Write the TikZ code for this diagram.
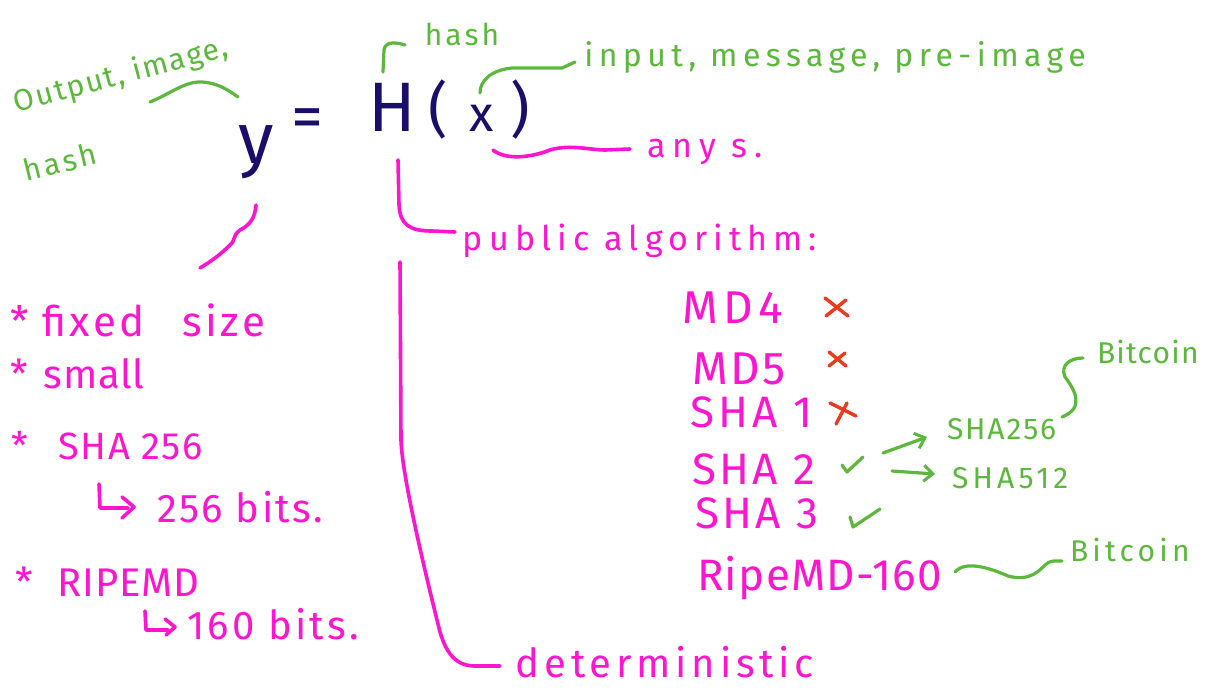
\documentclass[tikz,border=0pt]{standalone}
\usepackage{fontspec}
\setmainfont{Fira Sans}
\usetikzlibrary{arrows.meta}
\definecolor{inkblue}{HTML}{1A0E6B}
\definecolor{pen}{HTML}{FF14CF}
\definecolor{leaf}{HTML}{5CB83C}
\definecolor{cross}{HTML}{EB3A1E}
\newcommand\handfont[2]{\fontsize{#1}{#1}\selectfont\addfontfeature{LetterSpace=#2}}

\begin{document}
\begin{tikzpicture}[x=1pt,y=-1pt,
  lbl/.style={inner sep=0pt,outer sep=2pt},
  pinktext/.style={lbl,text=pen},
  greentext/.style={lbl,text=leaf},
  inktext/.style={lbl,text=inkblue},
  pinkline/.style={draw=pen,line width=3.6pt,line cap=round,line join=round},
  greenline/.style={draw=leaf,line width=3.2pt,line cap=round,line join=round},
  redline/.style={draw=cross,line width=3.4pt,line cap=round},
  barb/.style={-{Straight Barb[length=9pt,width=16pt,line width=3pt]}},
]
\useasboundingbox[fill=white] (0,0) rectangle (1225,698);

% --- the formula y = H(x)
\node[inktext,font=\handfont{72}{0}] (y)  at (256,152) {y};
\node[inktext,font=\handfont{64}{0}] (eq) at (307,124) {=};
\node[inktext,font=\handfont{70}{0}] (H)  at (392,107) {H};
\node[inktext,font=\handfont{60}{0}] (lp) at (438,109) {(};
\node[inktext,font=\handfont{50}{0}] (x)  at (482,118) {x};
\node[inktext,font=\handfont{60}{0}] (rp) at (520,109) {)};

% --- green annotations
\node[greentext,font=\handfont{30}{6},rotate=15] (out) at (121,76) {Output, image,};
\node[greentext,font=\handfont{30}{10},rotate=14] (hl) at (60,162) {hash};
\node[greentext,font=\handfont{30}{10}] (hh) at (462,34) {hash};
\node[greentext,font=\handfont{32}{17}] (inp) at (835,57) {input, message, pre-image};

% --- pink annotations
\node[pinktext,font=\handfont{34}{20}] (any) at (705,152) {any s.};
\node[pinktext,font=\handfont{34}{18}] (pub) at (640,241) {public algorithm:};
\node[pinktext,font=\handfont{40}{12}] (det) at (665,662) {deterministic};

% --- properties of the output
\node[pinktext,font=\handfont{42}{8},anchor=west] (fx)   at (8,320)  {*\hspace{14pt}fixed\hspace{0.9em}size};
\node[pinktext,font=\handfont{40}{2},anchor=west] (sm)   at (8,374)  {*\hspace{16pt}small};
\node[pinktext,font=\handfont{38}{4},anchor=west] (sh)   at (10,446) {*\hspace{30pt}SHA 256};
\node[pinktext,font=\handfont{40}{6},anchor=west] (b256) at (155,507) {256 bits.};
\node[pinktext,font=\handfont{40}{2},anchor=west] (rip)  at (14,582) {*\hspace{24pt}RIPEMD};
\node[pinktext,font=\handfont{40}{8},anchor=west] (b160) at (185,624) {160 bits.};

% --- algorithms
\node[pinktext,font=\handfont{46}{12},anchor=west] (md4)  at (680,308) {MD4};
\node[pinktext,font=\handfont{46}{6},anchor=west]  (md5)  at (690,369) {MD5};
\node[pinktext,font=\handfont{44}{10},anchor=west] (sha1) at (688,412) {SHA 1};
\node[pinktext,font=\handfont{44}{8},anchor=west]  (sha2) at (690,469) {SHA 2};
\node[pinktext,font=\handfont{44}{8},anchor=west]  (sha3) at (693,513) {SHA 3};
\node[pinktext,font=\handfont{44}{3},anchor=west]  (ripe) at (695,578) {RipeMD-160};

\node[greentext,font=\handfont{30}{6},anchor=west]  (s256) at (945,429) {SHA256};
\node[greentext,font=\handfont{30}{14},anchor=west] (s512) at (950,478) {SHA512};
\node[greentext,font=\handfont{30}{4},anchor=west]  (bc1)  at (1095,352) {Bitcoin};
\node[greentext,font=\handfont{30}{14},anchor=west] (bc2)  at (1068,550) {Bitcoin};

% --- end points of the hand-drawn connectors
\coordinate (outA) at (150,102);
\coordinate (outB) at (238,97);
\coordinate (hA) at (383,72);
\coordinate (hB) at (405,45);
\coordinate (xA) at (480,93);
\coordinate (xB) at (575,62);
\coordinate (sA) at (493,150);
\coordinate (sB) at (630,149);
\coordinate (pA) at (398,160);
\coordinate (pB) at (455,232);
\coordinate (yA) at (256,205);
\coordinate (yB) at (200,268);
\coordinate (dA) at (400,262);
\coordinate (dB) at (500,666);
\coordinate (a1) at (883,453);
\coordinate (a1t) at (927,437);
\coordinate (a2) at (892,471);
\coordinate (a2t) at (935,474);
\coordinate (bA) at (1062,417);
\coordinate (bB) at (1083,358);
\coordinate (rA) at (955,572);
\coordinate (rB) at (1062,561);

% green brackets
\draw[greenline] (outA) .. controls (170,94) and (185,81) .. (202,82)
                 .. controls (218,83) and (228,90) .. (outB);
\draw[greenline] (hA) -- (384,50) .. controls (385,43) and (392,41) .. (hB);
\draw[greenline] (xA) .. controls (480,80) and (492,70) .. (512,68)
                 -- (562,68) -- (xB);
\draw[greenline] (bA) .. controls (1085,408) and (1075,390) .. (1065,377)
                 .. controls (1060,365) and (1070,358) .. (bB);
\draw[greenline] (rA) .. controls (965,560) and (990,568) .. (1008,576)
                 .. controls (1030,582) and (1040,570) .. (1045,565)
                 .. controls (1050,560) and (1055,561) .. (rB);

% pink brackets
\draw[pinkline] (sA) .. controls (505,160) and (530,158) .. (550,150)
                .. controls (570,144) and (590,150) .. (605,150) -- (sB);
\draw[pinkline] (pA) -- (399,205) .. controls (400,225) and (410,231) .. (432,231) -- (pB);
\draw[pinkline] (yA) .. controls (255,218) and (250,225) .. (240,230)
                .. controls (232,236) and (236,240) .. (230,245)
                .. controls (220,255) and (210,262) .. (yB);
\draw[pinkline] (dA) -- (401,440) .. controls (402,480) and (432,600) .. (440,632)
                .. controls (446,652) and (455,666) .. (475,666) -- (dB);

% bits arrows
\draw[pinkline] (99,484) -- (100,508) -- (128,508);
\draw[pinkline] (122,497) -- (134,507) -- (122,518);
\draw[pinkline] (145,611) -- (146,630) -- (168,630);
\draw[pinkline] (165,619) -- (175,627) -- (166,635);

% broken and sound algorithms
\draw[redline] (825,298) -- (848,316);  \draw[redline] (826,316) -- (846,300);
\draw[redline] (829,352) -- (846,366);  \draw[redline] (829,366) -- (845,353);
\draw[redline] (830,403) -- (856,416);  \draw[redline] (836,424) -- (847,403);
\draw[greenline] (842,465) -- (847,472) -- (863,457);
\draw[greenline] (850,517) -- (853,527) -- (880,509);

% SHA-2 family
\draw[greenline,barb] (a1) -- (a1t);
\draw[greenline,barb] (a2) -- (a2t);
\end{tikzpicture}
\end{document}
